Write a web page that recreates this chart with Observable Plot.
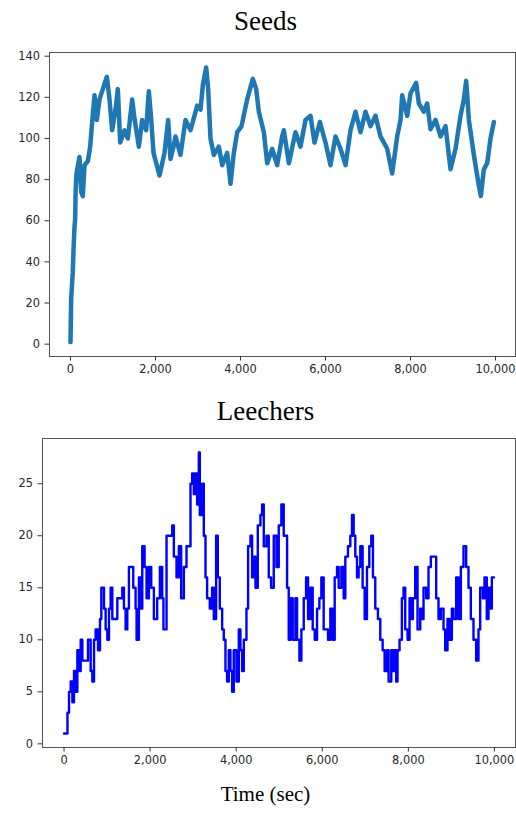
<!DOCTYPE html>
<html>
<head>
<meta charset="utf-8">
<script src="https://cdn.jsdelivr.net/npm/d3@7"></script>
<script src="https://cdn.jsdelivr.net/npm/@observablehq/plot@0.6"></script>
<style>
  html, body { margin: 0; padding: 0; background: #fff; }
  #wrap { position: relative; width: 516px; height: 818px; overflow: hidden; background: #fff; }
  .ttl { position: absolute; left: 0; width: 531px; text-align: center; font-family: "Liberation Serif", "DejaVu Serif", serif; color: #000; white-space: nowrap; }
  .panel { position: absolute; left: 0; }
</style>
</head>
<body>
<div id="wrap">
  <div class="ttl" style="top:8px;font-size:27px;line-height:27px;">Seeds</div>
  <div class="panel" id="p1" style="top:40px;"></div>
  <div class="ttl" style="top:398px;font-size:27px;line-height:27px;">Leechers</div>
  <div class="panel" id="p2" style="top:425px;"></div>
  <div class="ttl" style="top:784px;font-size:21px;line-height:21px;">Time (sec)</div>
</div>
<script>
const xTicks = [0, 2000, 4000, 6000, 8000, 10000];
const seedsYTicks = [0, 20, 40, 60, 80, 100, 120, 140];
const leechYTicks = [0, 5, 10, 15, 20, 25];

const seedsTime = [0,16,54,71,94,110,120,141,212,251,290,330,408,463,510,565,620,682,760,855,918,980,1059,1114,1169,1271,1350,1451,1510,1608,1686,1780,1843,1900,1953,2094,2212,2298,2353,2424,2470,2588,2706,2824,2981,3059,3114,3192,3239,3294,3373,3490,3569,3687,3765,3843,3922,4024,4157,4290,4369,4431,4549,4628,4745,4863,4980,5020,5137,5294,5412,5529,5647,5741,5867,6000,6118,6235,6353,6471,6588,6706,6824,6941,7059,7176,7294,7451,7569,7686,7765,7804,7922,8000,8133,8196,8314,8392,8471,8588,8706,8824,8941,9059,9176,9255,9310,9373,9490,9608,9655,9725,9804,9882,9961];
const seedsCount = [1,22,35,46,57,61,74,83,91,74,72,87,89,96,108,121,109,119,124,130,119,104,114,124,98,104,100,119,109,96,109,104,123,109,93,82,93,109,90,96,101,92,109,104,116,114,126,134.5,124,100,92,96,87,93,78,93,103,106,119,129,124,113,103,88,95,87,101,104,88,103,96,109,111,98,108,98,87,101,95,87,104,113,103,113,106,111,101,95,83,101,109,121,111,122,127,117,113,117,104.5,109,101,106,85,95,111,119,128,109,92,77,72,85,88,100,108];

const leechTime = [0,64,80,116,155,194,232,271,310,348,387,426,503,557,619,658,697,735,790,836,867,929,967,1006,1045,1083,1122,1199,1238,1315,1354,1392,1431,1470,1508,1562,1609,1663,1686,1740,1779,1818,1872,1918,1972,2026,2088,2165,2227,2281,2310,2382,2436,2514,2552,2614,2668,2722,2784,2846,2900,2939,2977,3016,3055,3093,3132,3155,3209,3248,3287,3325,3387,3441,3480,3534,3573,3619,3674,3712,3751,3789,3828,3867,3906,3944,4006,4061,4099,4138,4177,4239,4277,4332,4370,4409,4448,4502,4564,4603,4641,4703,4757,4811,4873,4935,4989,5050,5105,5183,5221,5260,5314,5376,5415,5469,5515,5570,5624,5670,5724,5778,5825,5879,5933,5979,6033,6088,6134,6188,6242,6289,6343,6382,6444,6498,6536,6598,6652,6691,6730,6768,6807,6845,6884,6938,6985,7039,7093,7139,7178,7232,7294,7348,7403,7449,7503,7542,7604,7640,7672,7718,7749,7796,7850,7889,7928,7982,8028,8059,8106,8160,8214,8276,8315,8353,8415,8469,8523,8601,8647,8701,8755,8817,8856,8910,8957,9011,9050,9112,9166,9220,9282,9344,9398,9452,9514,9576,9630,9669,9731,9770,9823,9862,9901,9940,9990];
const leechCount = [1,1,3,5,6,4,7,5,9,7,10,8,8,10,7,6,10,11,9,12,15,13,11,10,13,15,12,12,14,14,15,13,11,13,17,17,15,13,10,16,13,19,17,14,17,15,12,14,17,14,11,20,20,21,18,16,19,14,17,19,19,25,26,24,26,23,28,22,25,20,16,14,13,15,12,20,16,13,11,10,7,6,9,7,5,9,6,11,9,7,10,13,19,20,16,18,15,21,22,23,19,20,16,15,20,17,21,23,20,15,10,14,10,14,10,8,11,14,16,12,15,11,10,13,14,16,11,11,10,13,10,16,17,15,17,14,18,19,20,22,20,18,16,17,19,15,12,17,19,20,16,13,12,10,9,7,9,6,9,7,9,6,9,10,14,15,11,10,14,12,14,17,11,13,12,15,14,17,18,18,14,12,13,11,9,12,10,13,12,16,12,17,19,17,15,12,10,8,11,15,14,16,12,15,13,16,16];

const seeds = seedsTime.map((t, i) => ({t, v: seedsCount[i]}));
const leech = leechTime.map((t, i) => ({t, v: leechCount[i]}));
const fmt = d3.format(",");

const baseStyle = {fontFamily: "'DejaVu Sans', sans-serif", fontSize: "11.4px", color: "#262626", background: "#fff", overflow: "visible"};

const p1 = Plot.plot({
  width: 516, height: 340,
  marginTop: 12, marginBottom: 24, marginLeft: 49, marginRight: 1,
  style: baseStyle,
  x: {domain: [-494, 10470], label: null},
  y: {domain: [-6, 141.8], label: null},
  marks: [
    Plot.line(seeds, {x: "t", y: "v", stroke: "#1f77b4", strokeWidth: 4.5, strokeLinejoin: "round"}),
    Plot.frame({stroke: "#555", strokeWidth: 1}),
    Plot.axisX({ticks: xTicks, tickFormat: fmt, tickSize: 4.5, tickPadding: 4, stroke: "#333"}),
    Plot.axisY({ticks: seedsYTicks, tickSize: 4.5, tickPadding: 5, stroke: "#333"})
  ]
});
document.getElementById("p1").appendChild(p1);

const p2 = Plot.plot({
  width: 516, height: 350,
  marginTop: 13, marginBottom: 28, marginLeft: 42, marginRight: 1,
  style: baseStyle,
  x: {domain: [-500, 10490], label: null},
  y: {domain: [-0.35, 29.35], label: null},
  marks: [
    Plot.line(leech, {x: "t", y: "v", stroke: "#0000ff", strokeWidth: 2.4, curve: "step-after", strokeLinejoin: "round"}),
    Plot.frame({stroke: "#555", strokeWidth: 1}),
    Plot.axisX({ticks: xTicks, tickFormat: fmt, tickSize: 4.5, tickPadding: 4, stroke: "#333"}),
    Plot.axisY({ticks: leechYTicks, tickSize: 4.5, tickPadding: 5, stroke: "#333"})
  ]
});
document.getElementById("p2").appendChild(p2);
</script>
</body>
</html>
